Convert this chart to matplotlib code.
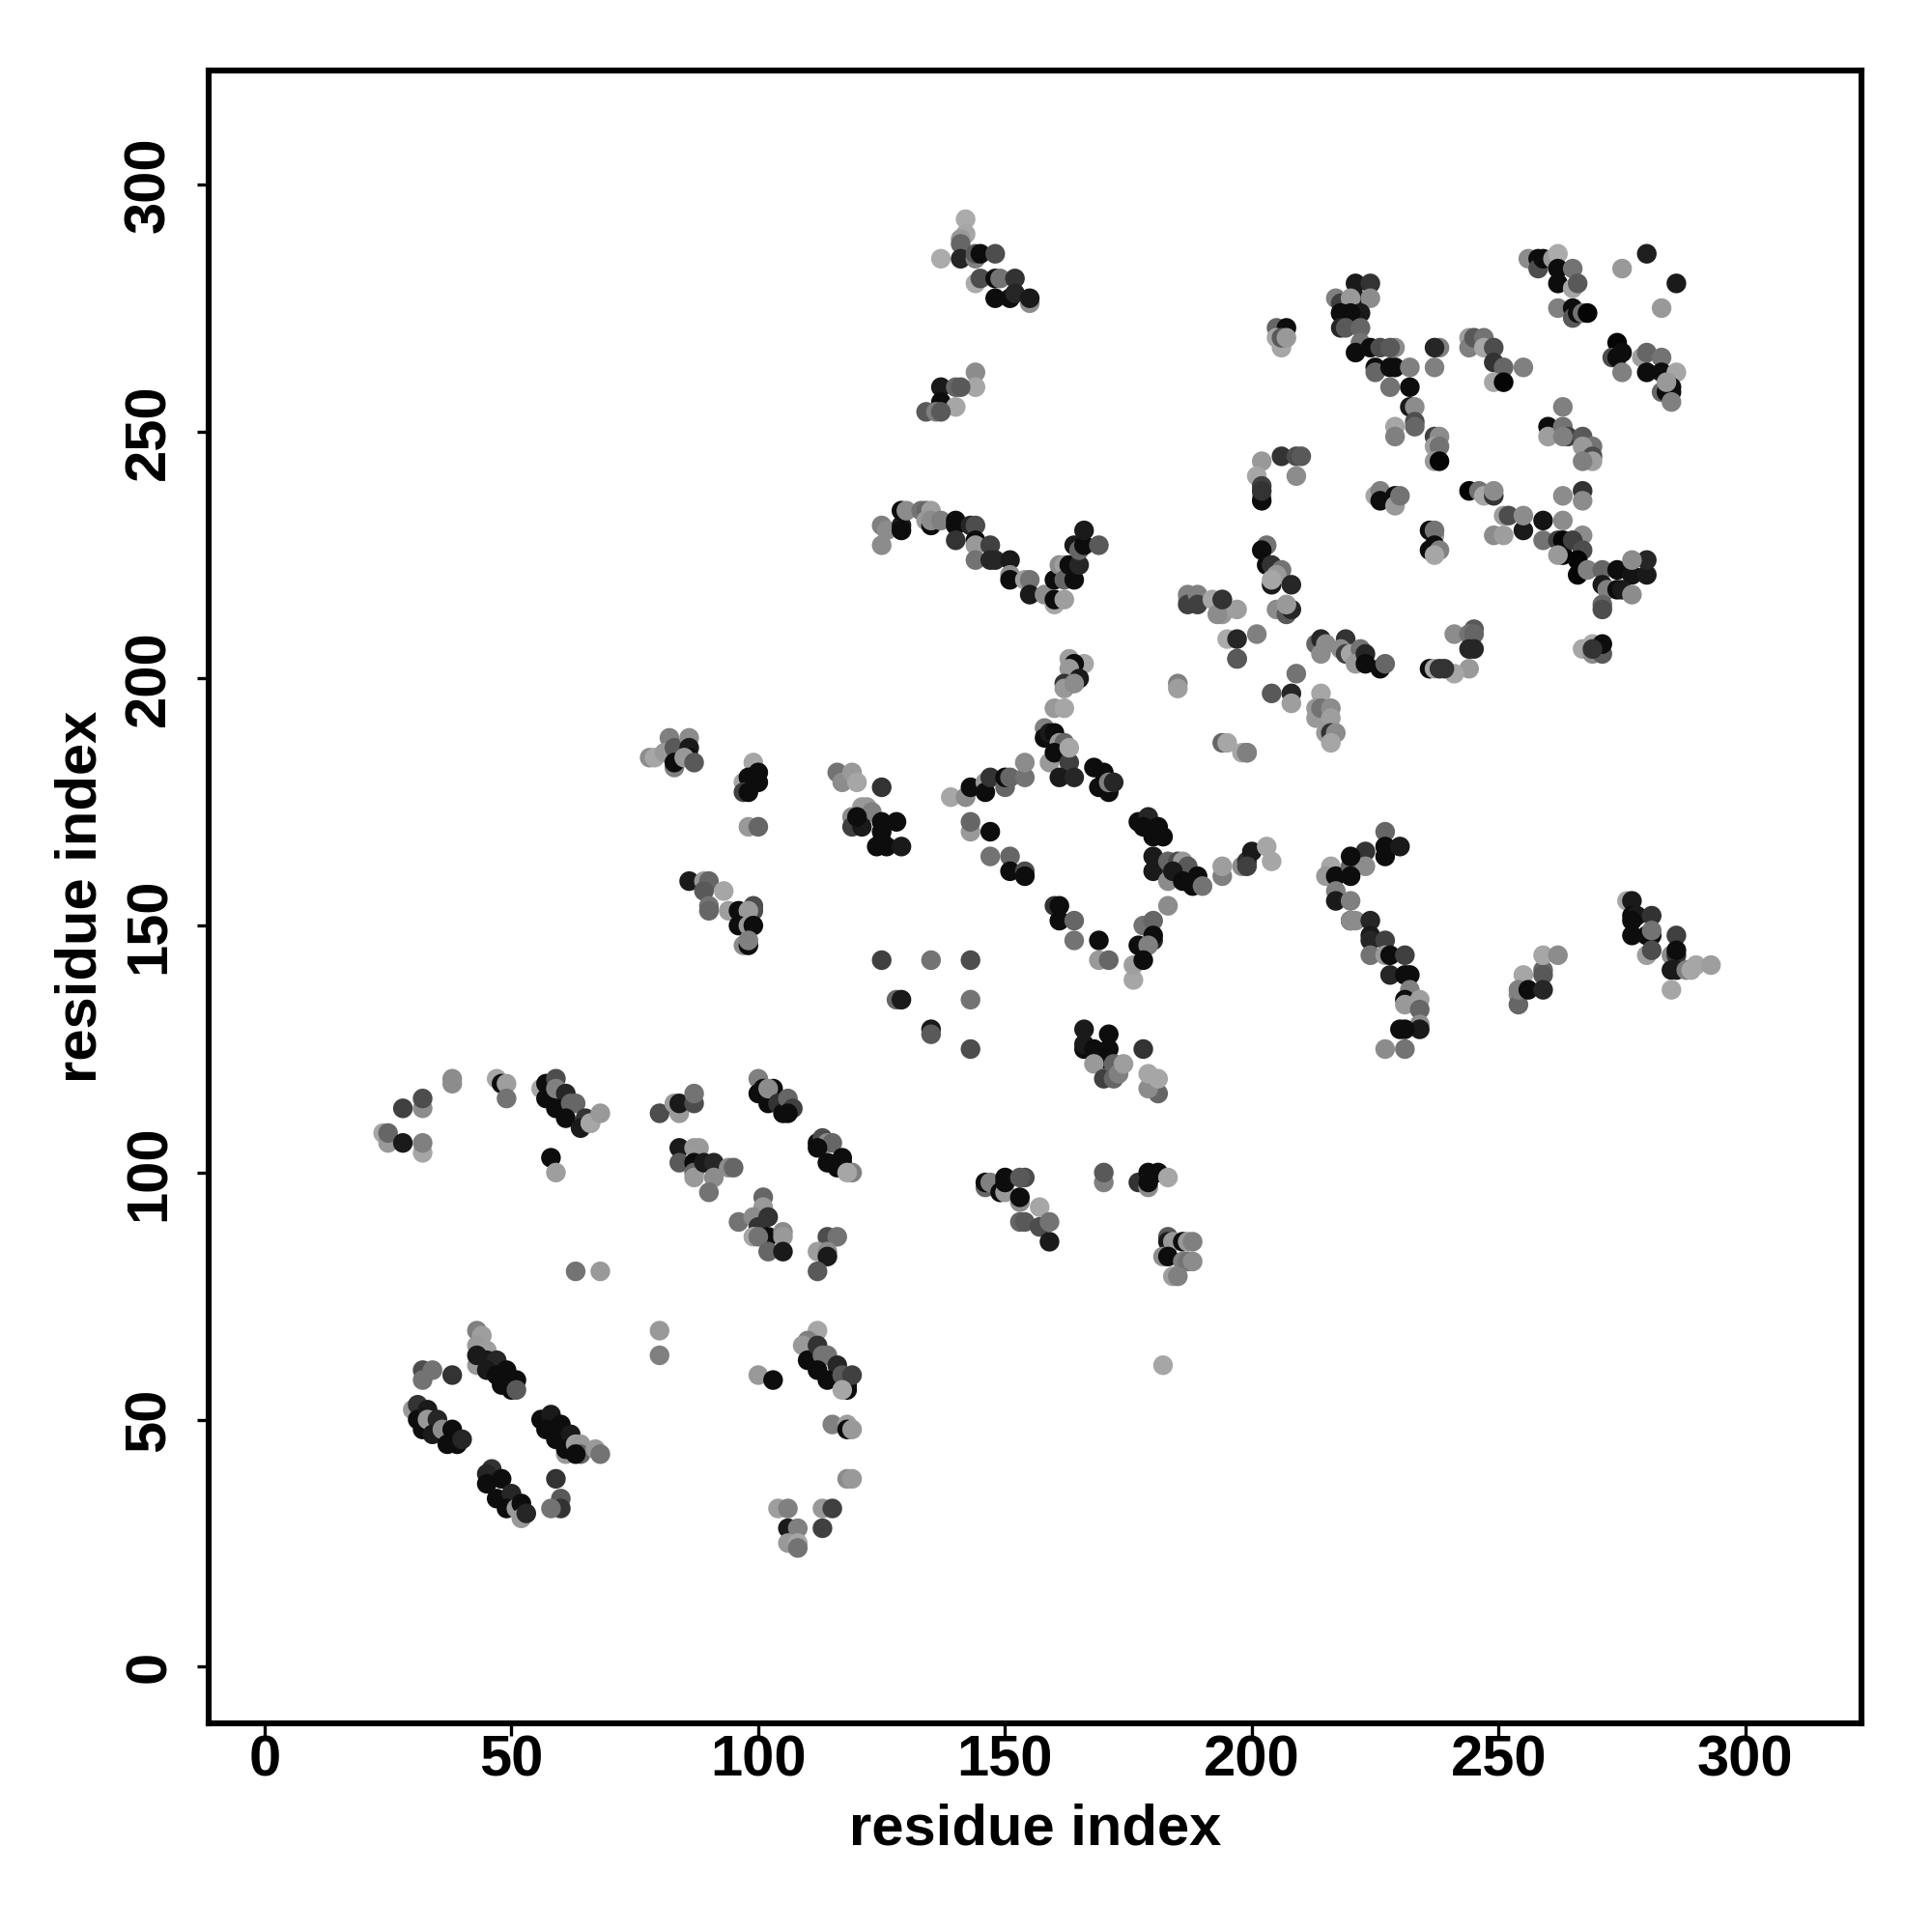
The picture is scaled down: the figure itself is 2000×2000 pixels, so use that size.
"""Residue contact map, grey level is contact strength."""
import matplotlib

matplotlib.use("Agg")
import matplotlib.pyplot as plt

TICKS = [0, 50, 100, 150, 200, 250, 300]
AXIS_LABEL = "residue index"

# lower left part of the map
low_x = [24, 25, 25, 28, 28, 32, 32, 32, 32, 38, 38, 47, 48, 49, 49,
         56, 57, 59, 57, 59, 61, 59, 62, 63, 61, 65, 64, 66, 66, 68, 58, 59,
         80, 83, 84, 84, 87, 87,
         100, 100, 101, 102, 103, 102, 104, 105, 106, 107, 106,
         84, 84, 87, 88, 87, 87, 87, 89, 91, 91, 90, 94, 95,
         101, 101, 96, 99, 100, 102, 102, 105, 105, 99, 100, 102, 105,
         114, 116, 112, 114, 114, 112,
         112, 113, 114, 115, 112, 114, 117, 116, 117, 119, 118,
         63, 68, 80, 80]
low_y = [108, 106, 108, 113, 106, 113, 115, 104, 106, 119, 118, 119, 118, 118, 115,
         117, 118, 119, 115, 117, 116, 113, 114, 114, 111, 111, 109, 110, 110, 112, 103, 100,
         112, 114, 112, 114, 114, 116,
         119, 116, 117, 114, 117, 117, 114, 112, 115, 113, 112,
         105, 102, 105, 105, 102, 100, 99, 102, 102, 99, 96, 101, 101,
         95, 93, 90, 91, 89, 91, 87, 88, 87, 87, 87, 84, 84,
         87, 87, 84, 84, 83, 80,
         106, 107, 106, 106, 105, 102, 103, 101, 102, 100, 100,
         80, 80, 68, 63]
low_g = [.65, .6, .4, .25, .1, .55, .3, .65, .5, .55, .55, .65, .05, .62, .45,
         .65, .05, .3, .05, .5, .15, .05, .4, .4, .05, .2, .1, .55, .65, .6, .05, .62,
         .3, .6, .6, .1, .3, .45,
         .5, .05, .05, .05, .05, .55, .2, .05, .4, .25, .05,
         .1, .35, .6, .6, .05, .4, .6, .1, .15, .55, .45, .55, .4,
         .4, .6, .45, .55, .2, .2, .05, .55, .6, .65, .45, .4, .1,
         .3, .45, .62, .55, .1, .35,
         .05, .3, .55, .4, .05, .05, .05, .05, .05, .5, .65,
         .45, .6, .6, .5]

# the four short diagonals at the bottom left, then the lone points round them
strand_x = [43, 44, 43, 45, 43, 43, 45, 47, 45, 49, 47, 48, 51, 50, 51,
            32, 34, 32, 38,
            30, 31, 31, 33, 32, 33, 35, 34, 36, 38, 37, 39, 40,
            56, 58, 57, 60, 59, 62, 61, 61, 63, 64, 64, 67, 68, 63,
            46, 45, 45, 48, 47, 50, 49, 51, 52, 52, 53,
            59, 60, 60, 58,
            100, 103,
            112, 110, 109, 110, 112, 113, 114, 112, 116, 114, 118, 117, 118, 119, 117,
            115, 118, 118, 119, 118, 119,
            104, 106, 113, 115, 106, 108, 113, 106, 108, 108]
strand_y = [68, 67, 65, 64, 61, 63, 62, 62, 60, 60, 59, 57, 58, 56, 56,
            60, 60, 58, 59,
            52, 53, 50, 52, 48, 50, 50, 47, 48, 48, 45, 45, 46,
            50, 51, 48, 49, 46, 47, 43, 44, 45, 45, 43, 44, 43, 43,
            40, 39, 37, 38, 34, 35, 32, 32, 33, 30, 31,
            38, 34, 32, 32,
            59, 58,
            68, 66, 65, 62, 65, 63, 63, 60, 61, 58, 57, 59, 56, 59, 56,
            49, 49, 48, 48, 38, 38,
            32, 32, 32, 32, 28, 28, 28, 25, 25, 24]
strand_g = [.5, .62, .6, .62, .6, .1, .1, .15, .1, .05, .05, .05, .05, .05, .35,
            .3, .45, .45, .2,
            .6, .2, .05, .1, .05, .6, .15, .1, .55, .05, .05, .05, .15,
            .05, .1, .05, .05, .05, .1, .6, .05, .62, .6, .4, .6, .45, .05,
            .2, .15, .05, .05, .05, .15, .05, .6, .05, .6, .15,
            .2, .35, .2, .45,
            .6, .05,
            .65, .5, .6, .05, .2, .45, .45, .05, .15, .05, .05, .35, .05, .25, .65,
            .5, .62, .05, .6, .55, .6,
            .62, .5, .6, .25, .1, .5, .25, .6, .65, .45]

# middle band, residues 78 to 130
mid_x = [78, 79, 82, 81, 83, 83, 83, 86, 86, 86, 85, 87,
         99, 97, 98, 100, 100, 97, 98, 98, 100,
         116, 117, 119, 120, 125,
         119, 121, 122, 119, 123, 121, 120, 125, 128, 124, 125, 126, 129, 125,
         86, 89, 90, 89, 93, 90, 90, 94, 96, 99, 99, 98, 96, 98, 99, 97, 98, 98,
         125, 128, 129, 135, 135, 135, 143, 143, 143]
mid_y = [184, 184, 188, 185, 186, 182, 183, 188, 186, 184, 184, 183,
         183, 179, 180, 181, 179, 177, 177, 170, 170,
         181, 179, 181, 179, 178,
         172, 174, 174, 170, 173, 170, 172, 171, 171, 166, 167, 166, 166, 169,
         159, 159, 159, 157, 157, 154, 153, 153, 153, 154, 153, 153, 150, 150, 150, 146, 146, 147,
         143, 135, 135, 143, 129, 128, 135, 125, 143]
mid_g = [.55, .65, .5, .6, .35, .5, .05, .55, .1, .05, .6, .35,
         .65, .65, .05, .05, .05, .25, .05, .6, .4,
         .45, .55, .6, .65, .2,
         .55, .6, .6, .25, .5, .1, .05, .05, .05, .05, .05, .05, .1, .05,
         .1, .6, .4, .35, .65, .45, .4, .62, .05, .3, .3, .6, .05, .6, .05, .55, .05, .5,
         .25, .4, .1, .45, .1, .35, .45, .3, .3]

# the diamond round residues 140 to 205
ring_x = [163, 166, 164, 163, 165, 162, 162, 164, 160, 162,
          158, 158, 159, 160, 159, 161, 162, 160, 163, 161, 164, 163,
          168, 170, 169, 171, 171, 172,
          139, 142, 143, 146, 146, 147, 150, 150, 151, 154, 154,
          143, 143, 147, 147, 151, 151, 154, 154,
          160, 161, 161, 164, 164, 169, 169, 171,
          176, 176, 180, 183, 178, 180, 180, 177, 179, 178,
          177, 179, 178, 181, 182, 180, 180, 180, 183, 183, 185, 186, 187,
          184, 186, 188, 189, 190,
          194, 194, 198, 199, 200, 199, 203, 204]
ring_y = [204, 203, 203, 202, 200, 199, 198, 199, 194, 194,
          190, 188, 189, 189, 183, 187, 187, 185, 183, 180, 180, 186,
          182, 181, 178, 177, 179, 179,
          176, 176, 178, 179, 177, 180, 178, 180, 180, 180, 183,
          169, 171, 169, 164, 164, 161, 161, 160,
          154, 154, 151, 151, 147, 147, 143, 143,
          139, 142, 147, 154, 150, 151, 148, 146, 146, 143,
          171, 172, 170, 170, 168, 168, 164, 161, 159, 163, 163, 163, 162,
          161, 159, 158, 160, 158,
          160, 162, 162, 163, 165, 162, 166, 163]
ring_g = [.62, .65, .05, .6, .1, .2, .6, .55, .6, .65,
          .5, .05, .1, .05, .6, .6, .4, .05, .25, .1, .15, .65,
          .05, .05, .05, .05, .5, .15,
          .65, .55, .05, .6, .05, .2, .4, .05, .4, .45, .55,
          .6, .4, .05, .45, .4, .05, .3, .05,
          .2, .05, .05, .4, .45, .05, .6, .4,
          .65, .62, .15, .55, .45, .4, .05, .05, .5, .05,
          .05, .15, .05, .05, .05, .05, .1, .1, .55, .4, .3, .6, .35,
          .1, .05, .05, .05, .45,
          .5, .62, .55, .2, .1, .25, .65, .65]

# cluster under the diamond and the group near (150-190, 80-100)
under_x = [166, 171, 166, 166, 168, 170, 171, 168, 170, 172, 172, 173, 174, 178,
           181, 179, 181, 179,
           146, 146, 147, 149, 150, 150, 150, 153, 154, 153, 153, 157, 153, 154, 157, 159, 159,
           170, 170, 177, 179, 179, 179, 181, 179, 183,
           183, 183, 184, 182, 183, 186, 187, 188, 186, 187, 188, 184, 185, 182]
under_y = [129, 128, 125, 126, 125, 123, 125, 122, 119, 119, 122, 120, 122, 125,
           116, 117, 119, 120,
           97, 98, 98, 96, 96, 98, 99, 94, 99, 99, 95, 93, 90, 90, 89, 86, 90,
           98, 100, 98, 97, 99, 100, 100, 98, 99,
           87, 86, 86, 83, 83, 86, 86, 86, 82, 82, 82, 79, 79, 61]
under_g = [.1, .05, .05, .1, .05, .05, .05, .6, .25, .4, .4, .5, .62, .2,
           .4, .55, .65, .65,
           .4, .05, .5, .05, .6, .05, .05, .55, .3, .35, .05, .65, .4, .35, .3, .1, .45,
           .5, .35, .2, .55, .2, .05, .05, .05, .65,
           .35, .1, .6, .55, .05, .05, .6, .5, .5, .45, .55, .62, .5, .65]

# long strand at residues 215 to 235, and the small right hand groups
right_x = [216, 215, 217, 217, 217, 220, 220, 220, 220, 223, 223, 227, 227, 227, 230,
           220, 220, 221, 224, 224, 224, 227, 224, 227, 228, 231, 228, 231, 232,
           232, 231, 231, 234, 234, 234, 234, 230, 231, 227, 231,
           254, 254, 255, 259, 259, 254, 256, 259, 259, 262,
           276, 277, 277, 278, 277, 277, 281, 280, 281, 281, 280, 281,
           286, 285, 286, 286, 285, 286, 288, 289, 290, 293, 285]
right_y = [162, 160, 160, 157, 155, 155, 151, 151, 162, 165, 162, 169, 166, 164, 166,
           164, 160, 151, 151, 148, 147, 147, 144, 144, 144, 144, 140, 140, 140,
           137, 135, 134, 135, 133, 130, 129, 129, 129, 125, 125,
           136, 134, 140, 141, 140, 137, 137, 137, 144, 144,
           155, 155, 152, 152, 151, 148, 152, 148, 148, 149, 144, 145,
           148, 144, 144, 145, 141, 141, 141, 141, 142, 142, 137]
right_g = [.65, .6, .05, .5, .1, .5, .05, .55, .4, .2, .55, .4, .05, .05, .1,
           .05, .05, .55, .15, .1, .15, .25, .45, .6, .05, .25, .15, .05, .05,
           .5, .05, .6, .62, .4, .55, .1, .05, .05, .55, .45,
           .55, .4, .65, .4, .35, .5, .05, .15, .65, .55,
           .65, .1, .05, .1, .05, .05, .2, .05, .05, .45, .62, .3,
           .25, .55, .2, .05, .1, .1, .5, .65, .65, .62, .65]

# top centre
top_x = [142, 142, 141, 137, 141, 141, 144, 144, 145, 148,
         144, 145, 148, 148, 149, 152, 151, 152, 155, 155,
         144, 144, 137, 140, 141, 137, 140, 134, 136, 137,
         125, 126, 125, 129, 129, 129, 130, 133, 134, 135, 134, 135, 135, 137,
         140, 140, 140, 143, 144, 144, 144, 144, 147, 147, 148, 151, 151, 151, 154, 155, 155, 158,
         160, 160, 160, 162, 161, 162, 162, 164, 163, 165, 164, 165, 166, 166, 169]
top_y = [293, 290, 289, 285, 288, 285, 285, 286, 286, 286,
         280, 281, 281, 277, 281, 281, 277, 278, 276, 277,
         262, 259, 259, 259, 259, 256, 255, 254, 254, 254,
         231, 230, 227, 231, 230, 234, 234, 234, 234, 234, 232, 231, 232, 232,
         232, 231, 228, 231, 231, 228, 227, 224, 227, 224, 224, 224, 221, 220, 220, 220, 217, 217,
         215, 220, 216, 216, 223, 223, 220, 220, 223, 223, 227, 226, 227, 230, 227]
top_g = [.67, .65, .6, .67, .4, .15, .5, .35, .05, .3,
         .67, .3, .05, .05, .45, .2, .05, .15, .55, .1,
         .55, .65, .1, .4, .35, .05, .65, .35, .5, .35,
         .5, .55, .55, .1, .05, .05, .55, .45, .4, .62, .6, .05, .55, .5,
         .05, .05, .2, .15, .3, .05, .6, .45, .25, .15, .15, .1, .55, .05, .62, .45, .1, .55,
         .65, .05, .05, .62, .55, .62, .4, .05, .05, .15, .1, .4, .05, .1, .35]

# upper right, residues 185 to 245
upper_x = [185, 185, 187, 187, 187, 189, 189, 192, 194, 194, 193, 197, 194,
           194, 195, 198, 199, 199, 195, 197, 201, 197, 197,
           204, 209, 208, 208, 214, 213, 213, 214, 216, 216, 215, 216, 217, 216,
           202, 201, 206, 209, 209, 210, 202, 202, 202, 202,
           203, 202, 203, 204, 206, 204, 205, 204, 208, 205, 207, 208, 207,
           205, 207, 205, 206, 206, 207,
           213, 214, 215, 214, 219, 218, 219, 220, 222, 221, 223, 223, 226, 227,
           241, 245, 244, 245, 244, 245, 244, 241, 236, 237, 238, 239]
upper_y = [199, 198, 216, 217, 215, 217, 215, 216, 216, 213, 213, 214, 216,
           187, 187, 185, 185, 185, 208, 208, 209, 204, 204,
           197, 201, 197, 195, 197, 194, 192, 194, 194, 192, 189, 189, 189, 187,
           244, 241, 245, 241, 245, 245, 239, 237, 236, 238,
           227, 226, 223, 223, 222, 219, 221, 220, 219, 214, 213, 214, 215,
           271, 271, 269, 267, 269, 269,
           207, 208, 207, 205, 208, 206, 205, 205, 206, 203, 205, 203, 202, 203,
           209, 210, 209, 209, 206, 206, 202, 201, 202, 202, 202, 202]
upper_g = [.5, .62, .65, .5, .25, .5, .25, .65, .5, .6, .55, .62, .2,
           .4, .65, .65, .45, .5, .67, .15, .5, .35, .35,
           .35, .45, .15, .62, .65, .6, .6, .45, .55, .62, .6, .2, .55, .65,
           .6, .65, .2, .55, .3, .35, .25, .6, .05, .2,
           .45, .05, .05, .2, .45, .1, .6, .65, .15, .55, .35, .15, .6,
           .4, .05, .65, .65, .35, .6,
           .4, .15, .55, .55, .2, .55, .25, .65, .45, .6, .15, .05, .05, .4,
           .55, .35, .45, .4, .15, .15, .6, .65, .05, .65, .2, .2]

# top right corner
corner_x = [217, 218, 218, 221, 224, 221, 224, 220, 218, 222, 220, 218, 219, 222,
            222, 221, 224, 226, 229, 228, 225, 225, 229, 228, 232, 228, 232, 237, 238, 237,
            232, 233, 233, 233, 229, 229, 237, 238, 237, 238, 237, 238,
            244, 244, 245, 247, 247, 249, 249, 251, 249, 251, 255,
            256, 258, 258, 259, 261, 262, 262, 265, 262, 265, 266, 262, 265, 265, 266, 267, 268,
            275, 280, 286, 283,
            274, 273, 275, 274, 275, 279, 280, 283, 280, 283, 286, 283, 284, 285, 285, 285, 284,
            263, 260, 260, 263, 264, 263, 267, 269, 267, 269, 269, 267]
corner_y = [277, 276, 274, 280, 280, 277, 277, 277, 274, 274, 274, 271, 271, 271,
            268, 266, 267, 267, 267, 267, 263, 262, 263, 263, 263, 259, 259, 263, 267, 267,
            255, 255, 252, 251, 251, 249, 249, 249, 247, 247, 244, 244,
            269, 267, 269, 269, 267, 267, 264, 263, 260, 260, 263,
            285, 285, 283, 285, 285, 286, 283, 283, 280, 279, 280, 275, 275, 273, 274, 274, 274,
            283, 286, 280, 275,
            268, 265, 266, 265, 262, 265, 266, 265, 262, 262, 262, 258, 258, 259, 258, 256, 260,
            255, 251, 249, 251, 249, 249, 249, 247, 247, 245, 244, 244]
corner_g = [.5, .25, .05, .1, .2, .1, .55, .6, .05, .1, .05, .15, .35, .4,
            .45, .05, .05, .3, .55, .35, .05, .4, .05, .05, .5, .45, .05, .5, .5, .15,
            .1, .55, .3, .4, .65, .5, .25, .55, .62, .45, .6, .02,
            .62, .5, .35, .45, .65, .3, .2, .4, .65, .02, .5,
            .55, .05, .3, .05, .6, .67, .05, .45, .05, .65, .35, .5, .05, .35, .05, .45, .02,
            .6, .12, .1, .6,
            .02, .3, .05, .05, .5, .62, .4, .45, .05, .05, .65, .4, .05, .05, .05, .5, .6,
            .5, .05, .62, .45, .25, .5, .35, .45, .6, .3, .62, .5]

# groups in the block residues 225 to 285, y 205 to 240
block_x = [225, 226, 226, 229, 229, 230, 237, 236, 237, 237, 236, 238, 237,
           244, 246, 247, 249, 249, 249, 251, 251, 252, 255, 255,
           259, 263, 263, 267, 267, 259, 262, 263, 263, 262, 267, 265, 267, 266, 266, 268,
           271, 274, 277, 280, 280, 277, 271, 272, 274, 275, 277, 271, 271,
           267, 269, 269, 271, 271, 269]
block_y = [237, 238, 236, 237, 235, 237, 229, 230, 230, 227, 226, 226, 225,
           238, 238, 237, 237, 238, 229, 229, 233, 233, 230, 233,
           232, 232, 237, 238, 236, 228, 228, 228, 225, 225, 229, 228, 226, 224, 221, 222,
           222, 222, 221, 221, 224, 224, 219, 218, 218, 218, 217, 215, 214,
           206, 207, 205, 205, 207, 206]
block_g = [.65, .5, .05, .05, .6, .45, .62, .05, .45, .05, .05, .5, .65,
           .02, .45, .65, .2, .55, .55, .62, .62, .3, .1, .55,
           .08, .55, .55, .2, .55, .45, .25, .02, .02, .6, .55, .25, .3, .02, .02, .5,
           .4, .05, .08, .1, .15, .55, .1, .5, .05, .1, .55, .4, .3,
           .65, .67, .55, .35, .05, .2]

res_x = low_x + strand_x + mid_x + ring_x + under_x + right_x + top_x + upper_x + corner_x + block_x
res_y = low_y + strand_y + mid_y + ring_y + under_y + right_y + top_y + upper_y + corner_y + block_y
grey = low_g + strand_g + mid_g + ring_g + under_g + right_g + top_g + upper_g + corner_g + block_g

plt.rcParams["font.family"] = ["Liberation Sans", "DejaVu Sans"]
plt.rcParams["font.weight"] = "bold"

fig = plt.figure(figsize=(20, 20), dpi=100)
ax = fig.add_axes([0.108, 0.108, 0.8555, 0.8555])

ax.scatter(res_x, res_y, s=215, c=[str(g) for g in grey], linewidths=0, zorder=3)

ax.set_xlim(-11.35, 323.5)
ax.set_ylim(-11.5, 323.1)
ax.set_xticks(TICKS)
ax.set_yticks(TICKS)
ax.tick_params(axis="x", labelsize=43, length=9, width=2.4, pad=-0.8)
ax.tick_params(axis="y", labelsize=43, length=9, width=2.4, pad=15)
for lab in ax.get_yticklabels():
    lab.set_rotation(90)
    lab.set_va("center")

for side in ax.spines.values():
    side.set_linewidth(4.4)

ax.set_xlabel(AXIS_LABEL, fontsize=43, fontweight="bold", labelpad=11.7)
ax.set_ylabel(AXIS_LABEL, fontsize=43, fontweight="bold", labelpad=12)

fig.savefig("out.png", dpi=100, facecolor="white")
plt.close(fig)
